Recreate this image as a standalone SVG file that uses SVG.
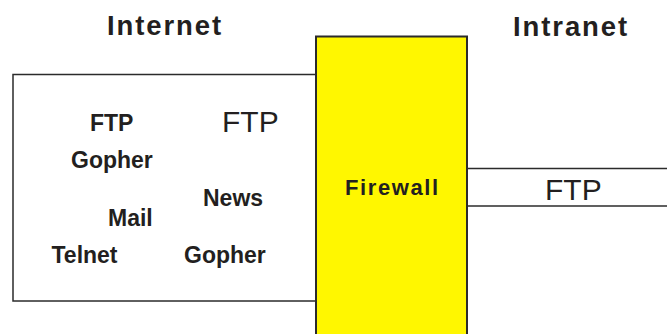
<svg xmlns="http://www.w3.org/2000/svg" width="667" height="334" viewBox="0 0 667 334">
<style>
.box{fill:#ffffff;stroke:#2b2b2b;stroke-width:1.5}
.fw{fill:#fff700;stroke:#2b2b2b;stroke-width:2}
.ln{stroke:#2b2b2b;stroke-width:1.5;fill:none}
text{font-family:"Liberation Sans",Arial,sans-serif;fill:#231f20}
.title{font-size:27.5px;font-weight:bold;letter-spacing:1.9px}
.b{font-size:23px;font-weight:bold}
.r{font-size:30px}
.fwl{font-size:22px;font-weight:bold;letter-spacing:1.6px}
</style>
<rect width="667" height="334" fill="#ffffff"/>
<g id="internet">
<rect class="box" x="13" y="74.5" width="303" height="226.5"/>
<text class="title" x="107" y="34.5">Internet</text>
<text class="b" x="90" y="130.5">FTP</text>
<text class="r" x="222" y="131.5">FTP</text>
<text class="b" x="71" y="168">Gopher</text>
<text class="b" x="203" y="206">News</text>
<text class="b" x="108" y="226">Mail</text>
<text class="b" x="51.5" y="262.5">Telnet</text>
<text class="b" x="184" y="262.5">Gopher</text>
</g>
<g id="firewall">
<rect class="fw" x="316" y="36.5" width="151" height="310"/>
<text class="fwl" x="345" y="195">Firewall</text>
</g>
<g id="connectors">
<line class="ln" x1="467" y1="168.5" x2="667" y2="168.5"/>
<line class="ln" x1="467" y1="206" x2="667" y2="206"/>
</g>
<g id="intranet">
<text class="title" x="513" y="35.5">Intranet</text>
<text class="r" x="545" y="200">FTP</text>
</g>
</svg>
